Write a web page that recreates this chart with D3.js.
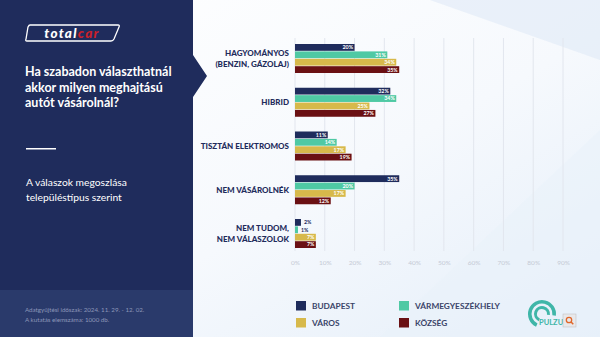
<!DOCTYPE html>
<html>
<head>
<meta charset="utf-8">
<script src="https://cdn.jsdelivr.net/npm/d3@7"></script>
<style>
  body { margin: 0; background: #fff; }
  svg { display: block; font-family: Lato, "Open Sans", sans-serif; }
</style>
</head>
<body>
<div id="chart"></div>
<script>
const categories = [
  ["HAGYOMÁNYOS", "(BENZIN, GÁZOLAJ)"],
  ["HIBRID"],
  ["TISZTÁN ELEKTROMOS"],
  ["NEM VÁSÁROLNÉK"],
  ["NEM TUDOM,", "NEM VÁLASZOLOK"]
];
const seriesNames = ["BUDAPEST", "VÁRMEGYESZÉKHELY", "VÁROS", "KÖZSÉG"];
const budapest = [20, 32, 11, 35, 2];
const varmegye = [31, 34, 14, 20, 1];
const varos = [34, 25, 17, 17, 7];
const kozseg = [35, 27, 19, 12, 7];
const ticks = [0, 10, 20, 30, 40, 50, 60, 70, 80, 90];

const colors = ["#1f2c5c", "#4fc9a4", "#d7b94b", "#6a1013"];
const series = [budapest, varmegye, varos, kozseg];

const width = 600, height = 337;
const navy = "#1f2c5c";

const svg = d3.select("#chart").append("svg")
  .attr("width", width).attr("height", height);

const defs = svg.append("defs");
const bg = defs.append("linearGradient").attr("id", "bg")
  .attr("x1", "0").attr("y1", "0").attr("x2", "1").attr("y2", "1");
bg.append("stop").attr("offset", "0").attr("stop-color", "#ffffff");
bg.append("stop").attr("offset", "0.55").attr("stop-color", "#f6f9fd");
bg.append("stop").attr("offset", "1").attr("stop-color", "#e4eef9");

// right side background
svg.append("rect").attr("width", width).attr("height", height).attr("fill", "url(#bg)");
svg.append("path")
  .attr("d", "M380,337 L600,130 L600,337 Z")
  .attr("fill", "#e9f1fa").attr("opacity", 0.6);
svg.append("path")
  .attr("d", "M430,0 L600,0 L600,60 Z")
  .attr("fill", "#dfeaf7").attr("opacity", 0.6);

// left panel with the arrow notch
const panel = svg.append("g");
panel.append("path")
  .attr("d", "M0,0 H193 V55 L207,76 L193,97 V337 H0 Z")
  .attr("fill", navy);
panel.append("rect").attr("x", 0).attr("y", 290).attr("width", 193).attr("height", 47)
  .attr("fill", "#2a3a6b");

// totalcar logo
const logo = panel.append("g").attr("transform", "translate(25,24)");
logo.append("path")
  .attr("d", "M5,1 H93 Q95,1 94,3 L89,15 Q88,17 86,17 H2 Q0,17 1,15 L3,3 Q4,1 5,1 Z")
  .attr("fill", "none").attr("stroke", "#fff").attr("stroke-width", 1.3);
const logoText = logo.append("text").attr("x", 47).attr("y", 13.8)
  .attr("text-anchor", "middle").attr("font-size", 13.5).attr("font-weight", 900)
  .attr("font-style", "italic").attr("letter-spacing", 1.3);
logoText.append("tspan").attr("fill", "#fff").text("total");
logoText.append("tspan").attr("fill", "#c8202a").text("car");

panel.append("text").attr("x", 25).attr("y", 76)
  .attr("fill", "#fff").attr("font-size", 12.5).attr("font-weight", 700)
  .selectAll("tspan")
  .data(["Ha szabadon választhatnál", "akkor milyen meghajtású", "autót vásárolnál?"])
  .join("tspan").attr("x", 25).attr("dy", (d, i) => i ? 15.5 : 0).text(d => d);

panel.append("rect").attr("x", 26).attr("y", 148).attr("width", 30).attr("height", 1.5)
  .attr("fill", "#fff");

panel.append("text").attr("x", 26).attr("y", 186)
  .attr("fill", "#fff").attr("font-size", 10.3)
  .selectAll("tspan")
  .data(["A válaszok megoszlása", "településtípus szerint"])
  .join("tspan").attr("x", 26).attr("dy", (d, i) => i ? 14.5 : 0).text(d => d);

panel.append("text").attr("x", 25).attr("y", 311.5)
  .attr("fill", "#8d97b8").attr("font-size", 6.2)
  .selectAll("tspan")
  .data(["Adatgyűjtési időszak: 2024. 11. 29. - 12. 02.", "A kutatás elemszáma: 1000 db."])
  .join("tspan").attr("x", 25).attr("dy", (d, i) => i ? 10 : 0).text(d => d);

// chart
const x = d3.scaleLinear().domain([0, 90]).range([295, 563]);
const y0 = d3.scaleBand().domain(d3.range(categories.length))
  .range([44, 248]).paddingInner(0.337).paddingOuter(0);
const y1 = d3.scaleBand().domain(d3.range(series.length))
  .range([0, y0.bandwidth()]).paddingInner(0.08);

const grid = svg.append("g");
grid.selectAll("line").data(ticks).join("line")
  .attr("x1", d => x(d)).attr("x2", d => x(d))
  .attr("y1", 38).attr("y2", 251)
  .attr("stroke", "#e2e6ee").attr("stroke-width", 1);

const xAxis = svg.append("g").attr("transform", "translate(0,257)")
  .call(d3.axisBottom(x).tickValues(ticks).tickFormat(d => d + "%").tickSize(0));
xAxis.select(".domain").remove();
xAxis.selectAll("text").attr("fill", "#c5cad5").attr("font-size", 6.5)
  .attr("font-family", "Lato, sans-serif");

const groups = svg.append("g").selectAll("g").data(categories).join("g")
  .attr("transform", (d, i) => `translate(0,${y0(i)})`);

groups.append("text")
  .attr("text-anchor", "end").attr("fill", navy)
  .attr("font-size", 8).attr("font-weight", 900)
  .attr("y", d => y0.bandwidth() / 2 + 3 - (d.length - 1) * 5.5)
  .selectAll("tspan").data(d => d).join("tspan")
  .attr("x", 289).attr("dy", (d, i) => i ? 11 : 0).text(d => d);

groups.each(function(c, ci) {
  const g = d3.select(this);
  series.forEach((s, si) => {
    const v = s[ci];
    const by = y1(si);
    g.append("rect")
      .attr("x", x(0)).attr("y", by)
      .attr("width", x(v) - x(0)).attr("height", y1.bandwidth())
      .attr("fill", colors[si]);
    const inside = v >= 5;
    g.append("text")
      .attr("x", inside ? x(v) - 1.5 : x(v) + 3)
      .attr("y", by + y1.bandwidth() / 2 + 1.9)
      .attr("text-anchor", inside ? "end" : "start")
      .attr("font-size", 5.3).attr("font-weight", 700)
      .attr("fill", inside ? "#fff" : navy)
      .text(v + "%");
  });
});

// legend
const legend = svg.append("g").selectAll("g").data(seriesNames).join("g")
  .attr("transform", (d, i) => `translate(${i % 2 ? 399 : 296},${i < 2 ? 301 : 318})`);
legend.append("rect").attr("width", 10).attr("height", 9.5)
  .attr("fill", (d, i) => colors[i]);
legend.append("text").attr("x", 16).attr("y", 8)
  .attr("fill", "#3a4468").attr("font-size", 8.3).attr("font-weight", 700)
  .text(d => d);

// pulzus mark
const pz = svg.append("g").attr("transform", "translate(542,314)");
pz.append("path").attr("d", d3.arc()({innerRadius: 10.5, outerRadius: 14, startAngle: -2.7, endAngle: 1.7}))
  .attr("fill", "#3fb6a8");
pz.append("path").attr("d", d3.arc()({innerRadius: 5, outerRadius: 8, startAngle: -2.7, endAngle: 1.7}))
  .attr("fill", "#3fb6a8");
pz.append("text").attr("x", -3).attr("y", 11).attr("font-size", 7.5).attr("font-weight", 700)
  .attr("fill", "#3fb6a8").text("PULZU");
pz.append("rect").attr("x", 21).attr("y", 0).attr("width", 13).attr("height", 13)
  .attr("fill", "#e8e8ea").attr("stroke", "#bbb").attr("stroke-width", 0.5);
pz.append("circle").attr("cx", 27).attr("cy", 6).attr("r", 2.7)
  .attr("fill", "none").attr("stroke", "#e0672a").attr("stroke-width", 1.3);
pz.append("line").attr("x1", 29).attr("y1", 8).attr("x2", 31.3).attr("y2", 10.3)
  .attr("stroke", "#e0672a").attr("stroke-width", 1.5);
</script>
</body>
</html>
